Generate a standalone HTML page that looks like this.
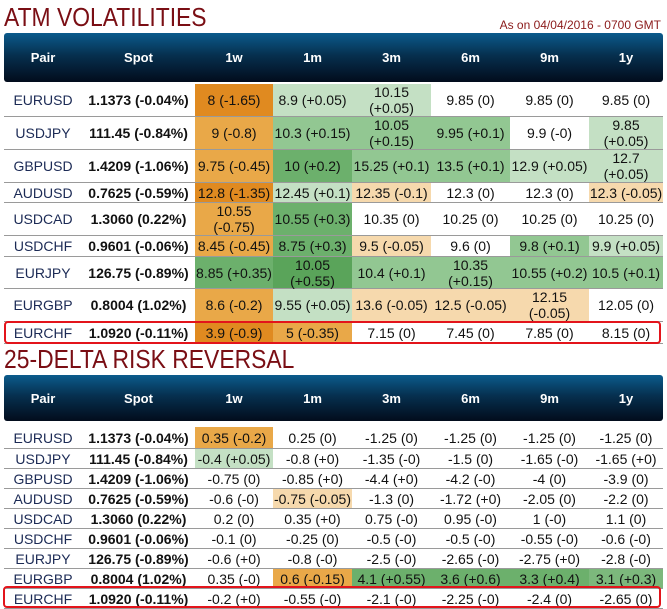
<!DOCTYPE html>
<html><head><meta charset="utf-8">
<style>
body{margin:0;width:667px;height:609px;background:#fff;position:relative;overflow:hidden;font-family:"Liberation Sans",sans-serif}
.title{position:absolute;left:4px;color:#7a0e14;font-size:26px;letter-spacing:0px;transform:scaleX(0.88);transform-origin:left}
.asof{position:absolute;right:6px;top:18px;color:#8b1a1a;font-size:12px}
.hdr{position:absolute;left:4px;width:659px;border-radius:3px;background:linear-gradient(#0b5b8c,#06304f 45%,#020c1c);color:#fff;font-weight:bold;font-size:13px}
.hdr div,.row div{position:absolute;top:0;height:100%;display:flex;align-items:center;justify-content:center;text-align:center}
.row{position:absolute;left:4px;width:659px;border-bottom:1px solid #9a9a9a;box-sizing:border-box;font-size:14px;color:#111;line-height:16px}
.pair{color:#1b2a55}
.spot{font-weight:bold;color:#111}
.box{position:absolute;border:2px solid #e3141b;border-radius:4px;box-sizing:border-box}
</style></head><body>
<div class="title" style="top:2px">ATM VOLATILITIES</div>
<div class="asof">As on 04/04/2016 - 0700 GMT</div>
<div class="title" style="top:344px">25-DELTA RISK REVERSAL</div>
<div id="root"></div>
<div class="box" style="left:4px;top:321px;width:657px;height:23px"></div>
<div class="box" style="left:3px;top:586px;width:658px;height:22px"></div>
<script>
const headers=["Pair","Spot","1w","1m","3m","6m","9m","1y"];
const pairs=["EURUSD","USDJPY","GBPUSD","AUDUSD","USDCAD","USDCHF","EURJPY","EURGBP","EURCHF"];
const spots=["1.1373 (-0.04%)","111.45 (-0.84%)","1.4209 (-1.06%)","0.7625 (-0.59%)","1.3060 (0.22%)","0.9601 (-0.06%)","126.75 (-0.89%)","0.8004 (1.02%)","1.0920 (-0.11%)"];
const atm=[
["8 (-1.65)","8.9 (+0.05)","10.15<br>(+0.05)","9.85 (0)","9.85 (0)","9.85 (0)"],
["9 (-0.8)","10.3 (+0.15)","10.05<br>(+0.15)","9.95 (+0.1)","9.9 (-0)","9.85<br>(+0.05)"],
["9.75 (-0.45)","10 (+0.2)","15.25 (+0.1)","13.5 (+0.1)","12.9 (+0.05)","12.7<br>(+0.05)"],
["12.8 (-1.35)","12.45 (+0.1)","12.35 (-0.1)","12.3 (0)","12.3 (0)","12.3 (-0.05)"],
["10.55<br>(-0.75)","10.55 (+0.3)","10.35 (0)","10.25 (0)","10.25 (0)","10.25 (0)"],
["8.45 (-0.45)","8.75 (+0.3)","9.5 (-0.05)","9.6 (0)","9.8 (+0.1)","9.9 (+0.05)"],
["8.85 (+0.35)","10.05<br>(+0.55)","10.4 (+0.1)","10.35<br>(+0.15)","10.55 (+0.2)","10.5 (+0.1)"],
["8.6 (-0.2)","9.55 (+0.05)","13.6 (-0.05)","12.5 (-0.05)","12.15<br>(-0.05)","12.05 (0)"],
["3.9 (-0.9)","5 (-0.35)","7.15 (0)","7.45 (0)","7.85 (0)","8.15 (0)"]];
const atmColor=[
["o3","g1","g1","","",""],["o2","g2","g2","g2","","g1"],["o2","g3","g2","g2","g1","g1"],
["o3","g1","o1","","","o1"],["o2","g3","","","",""],["o2","g3","o1","","g2","g1"],
["g3","g4","g2","g2","g2","g2"],["o2","g1","o1","o1","o1",""],["o3","o2","","","",""]];
const rr=[
["0.35 (-0.2)","0.25 (0)","-1.25 (0)","-1.25 (0)","-1.25 (0)","-1.25 (0)"],
["-0.4 (+0.05)","-0.8 (+0)","-1.35 (-0)","-1.5 (0)","-1.65 (-0)","-1.65 (+0)"],
["-0.75 (0)","-0.85 (+0)","-4.4 (+0)","-4.2 (-0)","-4 (0)","-3.9 (0)"],
["-0.6 (-0)","-0.75 (-0.05)","-1.3 (0)","-1.72 (+0)","-2.05 (0)","-2.2 (0)"],
["0.2 (0)","0.35 (+0)","0.75 (-0)","0.95 (-0)","1 (-0)","1.1 (0)"],
["-0.1 (0)","-0.25 (0)","-0.5 (-0)","-0.5 (-0)","-0.55 (-0)","-0.6 (-0)"],
["-0.6 (+0)","-0.8 (-0)","-2.5 (-0)","-2.65 (-0)","-2.75 (+0)","-2.8 (-0)"],
["0.35 (-0)","0.6 (-0.15)","4.1 (+0.55)","3.6 (+0.6)","3.3 (+0.4)","3.1 (+0.3)"],
["-0.2 (+0)","-0.55 (-0)","-2.1 (-0)","-2.25 (-0)","-2.4 (0)","-2.65 (0)"]];
const rrColor=[
["o2","","","","",""],["g1","","","","",""],["","","","","",""],["","o1","","","",""],
["","","","","",""],["","","","","",""],["","","","","",""],["","o2","g3","g3","g3","g2b"],["","","","","",""]];
const atmHeights=[33,33,33,20,33,21,32,33,22];
const rrHeights=[22,20,20,20,20,20,20,20,20];
const colors={o3:"#e08a20",o2:"#e9a848",o1:"#f6d9ad",g1:"#c4e0c4",g2:"#92c792",g3:"#6cb06c",g4:"#5aa45a",g2b:"#7cb87c"};
const colX=[0,78,191,269,348,427,506,585,659];
const root=document.getElementById('root');
function header(top,h,name){
  const hd=document.createElement('div');hd.className='hdr';hd.style.top=top+'px';hd.style.height=h+'px';
  
  
  headers.forEach((t,i)=>{const c=document.createElement('div');c.style.left=colX[i]+'px';c.style.width=(colX[i+1]-colX[i])+'px';c.textContent=t;
    
    
    hd.appendChild(c);});
  root.appendChild(hd);
}
function table(top,heights,vals,cols,prefix){
  let y=top;
  pairs.forEach((p,r)=>{
    const row=document.createElement('div');row.className='row';row.style.top=y+'px';row.style.height=heights[r]+'px';
    
    
    const cells=[p,spots[r]].concat(vals[r]);
    cells.forEach((t,i)=>{const c=document.createElement('div');c.style.left=colX[i]+'px';c.style.width=(colX[i+1]-colX[i])+'px';c.style.height=(heights[r]-1)+'px';
      c.innerHTML=t;if(i==0)c.className='pair';if(i==1)c.className='spot';
      if(i>1&&cols[r][i-2])c.style.background=colors[cols[r][i-2]];
      
      
      row.appendChild(c);});
    root.appendChild(row);y+=heights[r];
  });
}
header(33,49,'atm-header');
table(84,atmHeights,atm,atmColor,'atm');
header(375,46,'rr-header');
table(427,rrHeights,rr,rrColor,'rr');
</script>
</body></html>
